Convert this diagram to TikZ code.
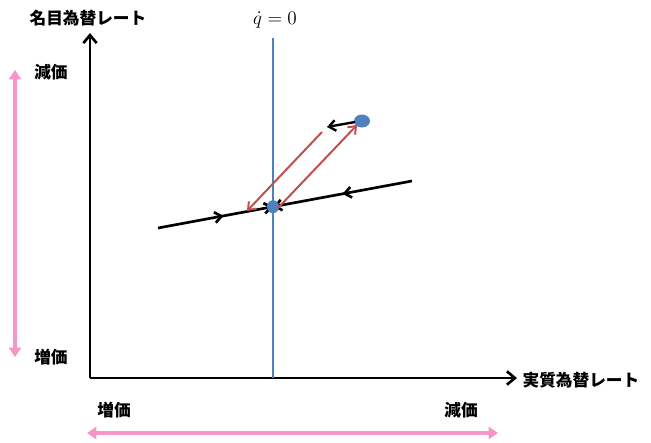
\documentclass[tikz,border=0pt]{standalone}
\usepackage{amsmath}
\usepackage{fontspec}
\newfontfamily\jpfont{Noto Sans CJK JP}
\usetikzlibrary{
    arrows.meta,
    calc,
    decorations.markings
}
\definecolor{lineblue}{RGB}{79,129,189}
\definecolor{linered}{RGB}{192,80,77}
\definecolor{linepink}{RGB}{246,150,200}

\tikzset{
    lbl/.style={font=\jpfont\bfseries\fontsize{12.5}{14}\selectfont, inner sep=1pt},
    curve/.style={line width=2pt, black},
    midarrow/.style={postaction={decorate, decoration={markings,
        mark=at position #1 with {\arrow{Straight Barb[length=5pt,width=8pt]}}}}}
}

\begin{document}
\begin{tikzpicture}[x=0.75pt, y=-0.75pt]
\useasboundingbox (0,0) rectangle (651,443);

% Axes
\coordinate (O) at (90,378);
\draw[line width=2pt, -{Straight Barb[length=6pt,width=10pt]}] (O) -- (90,33);
\draw[line width=2pt, -{Straight Barb[length=6pt,width=10pt]}] (O) -- (517,378);
\node[lbl] (ylab) at (88,18) {名目為替レート};
\node[lbl, anchor=west] (xlab) at (521,380) {実質為替レート};

% qdot = 0 line
\draw[lineblue, line width=1.6pt] (273,38) -- (273,378);
\node[font=\fontsize{15}{17}\selectfont, inner sep=1pt] (qlab) at (275,20) {$\dot{q}=0$};

% Saddle path
\coordinate (L) at (158,228);
\coordinate (R) at (412,181);
\coordinate (E) at (273,206.7);
\draw[curve, midarrow=0.57, -{Straight Barb[length=5pt,width=8pt]}] (L) -- (E);
\draw[curve, midarrow=0.5, -{Straight Barb[length=5pt,width=8pt]}] (R) -- (E);
\fill[lineblue] (E) ellipse (6 and 6.5);

% Jump point
\coordinate (J) at (362,121);
\fill[lineblue] (J) ellipse (8 and 6.5);
\draw[line width=1.8pt, -{Straight Barb[length=5pt,width=8pt]}] (355,122) -- (327,127);

% Red adjustment arrows
\draw[linered, line width=1.5pt, -{Straight Barb[length=5pt,width=8pt]}] (322,132) -- (247,211);
\draw[linered, line width=1.5pt, -{Straight Barb[length=5pt,width=8pt]}] (278,208) -- (357,125);

% Pink direction arrows
\draw[linepink, line width=2.6pt, {Triangle[length=7pt,width=9pt]}-{Triangle[length=7pt,width=9pt]}] (15,70) -- (15,357);
\draw[linepink, line width=2.6pt, {Triangle[length=7pt,width=9pt]}-{Triangle[length=7pt,width=9pt]}] (87,433) -- (498,433);
\node[lbl] (up) at (51,72) {減価};
\node[lbl] (down) at (51,357) {増価};
\node[lbl] (left) at (114,410) {増価};
\node[lbl] (right) at (461,410) {減価};

\end{tikzpicture}
\end{document}
